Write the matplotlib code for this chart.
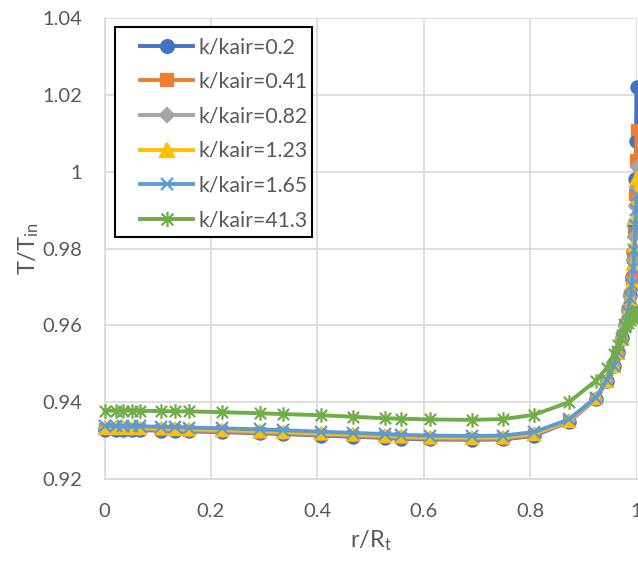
import matplotlib
matplotlib.use("Agg")
import matplotlib.pyplot as plt
from matplotlib.path import Path
from matplotlib.patches import Rectangle
from matplotlib.ticker import FuncFormatter

# -------- DATA ------------------------------------------------------
r_over_R = [0.000, 0.022, 0.035, 0.051, 0.067, 0.107, 0.132, 0.159, 0.220, 0.293,
            0.336, 0.407, 0.467, 0.527, 0.558, 0.611, 0.690, 0.749, 0.807, 0.873,
            0.923, 0.945, 0.957, 0.965, 0.972, 0.979, 0.984, 0.988, 0.991, 0.994,
            0.996, 0.998, 0.999, 1.000]

T_k020 = [0.9328, 0.9328, 0.9328, 0.9327, 0.9327, 0.9326, 0.9325, 0.9324, 0.9322, 0.9319,
          0.9317, 0.9313, 0.9310, 0.9307, 0.9305, 0.9303, 0.9302, 0.9303, 0.9312, 0.9349,
          0.9407, 0.9455, 0.9494, 0.9530, 0.9567, 0.9602, 0.9640, 0.9680, 0.9725, 0.9790,
          0.9860, 0.9980, 1.0080, 1.0220]
T_k041 = [0.9330, 0.9330, 0.9330, 0.9329, 0.9329, 0.9328, 0.9327, 0.9326, 0.9324, 0.9321,
          0.9319, 0.9315, 0.9312, 0.9309, 0.9307, 0.9305, 0.9304, 0.9305, 0.9314, 0.9350,
          0.9408, 0.9455, 0.9494, 0.9530, 0.9566, 0.9601, 0.9638, 0.9677, 0.9720, 0.9780,
          0.9840, 0.9940, 1.0030, 1.0108]
T_k082 = [0.9332, 0.9332, 0.9332, 0.9331, 0.9331, 0.9330, 0.9329, 0.9328, 0.9326, 0.9323,
          0.9321, 0.9317, 0.9314, 0.9311, 0.9309, 0.9307, 0.9306, 0.9307, 0.9316, 0.9351,
          0.9409, 0.9456, 0.9494, 0.9529, 0.9565, 0.9601, 0.9637, 0.9675, 0.9715, 0.9770,
          0.9830, 0.9910, 0.9960, 1.0012]
T_k123 = [0.9334, 0.9334, 0.9334, 0.9333, 0.9333, 0.9332, 0.9331, 0.9330, 0.9328, 0.9325,
          0.9323, 0.9319, 0.9316, 0.9313, 0.9311, 0.9309, 0.9308, 0.9309, 0.9318, 0.9352,
          0.9410, 0.9456, 0.9494, 0.9529, 0.9564, 0.9600, 0.9636, 0.9672, 0.9710, 0.9760,
          0.9810, 0.9880, 0.9930, 0.9984]
T_k165 = [0.9338, 0.9338, 0.9338, 0.9337, 0.9337, 0.9336, 0.9335, 0.9334, 0.9332, 0.9329,
          0.9327, 0.9323, 0.9320, 0.9317, 0.9315, 0.9313, 0.9312, 0.9313, 0.9322, 0.9355,
          0.9412, 0.9458, 0.9495, 0.9530, 0.9565, 0.9600, 0.9635, 0.9670, 0.9705, 0.9750,
          0.9795, 0.9860, 0.9900, 0.9940]
T_k413 = [0.9378, 0.9378, 0.9378, 0.9378, 0.9377, 0.9377, 0.9376, 0.9376, 0.9374, 0.9371,
          0.9369, 0.9366, 0.9362, 0.9358, 0.9357, 0.9355, 0.9354, 0.9356, 0.9367, 0.9400,
          0.9455, 0.9490, 0.9525, 0.9550, 0.9575, 0.9595, 0.9606, 0.9614, 0.9620, 0.9625,
          0.9628, 0.9632, 0.9634, 0.9636]

labels = ["k/kair=0.2", "k/kair=0.41", "k/kair=0.82", "k/kair=1.23", "k/kair=1.65", "k/kair=41.3"]
x_ticks = [0, 0.2, 0.4, 0.6, 0.8, 1.0]
y_ticks = [0.92, 0.94, 0.96, 0.98, 1.00, 1.02, 1.04]
# --------------------------------------------------------------------

W, H = 638, 561

# Excel-style star marker: an "x" with a vertical bar
star = Path([(-1, -1), (1, 1), (-1, 1), (1, -1), (0, -1.3), (0, 1.3)],
            [Path.MOVETO, Path.LINETO, Path.MOVETO, Path.LINETO, Path.MOVETO, Path.LINETO])

styles = [
    ("#4472C4", "o", 8.8),
    ("#ED7D31", "s", 7.8),
    ("#A5A5A5", "D", 6.5),
    ("#FFC000", "^", 9.0),
    ("#5B9BD5", "x", 8.5),
    ("#70AD47", star, 10.5),
]

TEXT = "#595959"
GRID = "#D9D9D9"

plt.rcParams["font.family"] = ["Lato", "DejaVu Sans"]
plt.rcParams["mathtext.fontset"] = "custom"
plt.rcParams["mathtext.rm"] = "Lato"
plt.rcParams["mathtext.it"] = "Lato"


def main():
    fig = plt.figure(figsize=(W / 100, H / 100), dpi=100)
    ax = fig.add_axes([104.5 / W, 1 - 479 / H, 532 / W, 461 / H])

    series = [T_k020, T_k041, T_k082, T_k123, T_k165, T_k413]
    for i, (vals, lab, (col, mk, ms)) in enumerate(zip(series, labels, styles)):
        ax.plot(r_over_R, vals, color=col, linewidth=2.8, marker=mk, markersize=ms,
                markerfacecolor=col, markeredgecolor=col, markeredgewidth=1.6,
                label=lab, clip_on=False, zorder=3 + i)

    ax.set_xlim(0, 1)
    ax.set_ylim(0.92, 1.04)
    ax.set_xticks(x_ticks)
    ax.set_yticks(y_ticks)
    ax.xaxis.set_major_formatter(FuncFormatter(lambda v, p: f"{v:g}"))
    ax.yaxis.set_major_formatter(FuncFormatter(lambda v, p: f"{v:g}"))
    ax.tick_params(length=0, labelsize=14.5, colors=TEXT)
    ax.tick_params(axis="x", pad=17)
    ax.tick_params(axis="y", pad=16)

    ax.grid(True, color=GRID, linewidth=1.2)
    ax.set_axisbelow(True)
    for side in ["top", "right"]:
        ax.spines[side].set_visible(False)
    for side in ["left", "bottom"]:
        ax.spines[side].set_color(GRID)
        ax.spines[side].set_linewidth(1.2)

    ax.set_xlabel(r"r/R$_\mathrm{t}$", fontsize=17, color=TEXT, labelpad=6)
    ax.set_ylabel(r"T/T$_\mathrm{in}$", fontsize=17, color=TEXT, labelpad=1)

    # legend box drawn by hand so the padding matches the Excel layout
    box = Rectangle((115 / W, 1 - 237 / H), 197 / W, 210 / H, transform=fig.transFigure,
                    facecolor="white", edgecolor="black", linewidth=1.5,
                    zorder=19, clip_on=False)
    ax.add_patch(box)

    leg = ax.legend(loc="upper left", bbox_to_anchor=(140 / W, 1 - 37 / H),
                    bbox_transform=fig.transFigure, borderaxespad=0, borderpad=0,
                    fontsize=15.3, handlelength=2.5, labelspacing=0.69,
                    handletextpad=0.25, frameon=False, markerscale=1.05)
    for t in leg.get_texts():
        t.set_color(TEXT)
    leg.set_zorder(20)

    fig.savefig("out.png", dpi=100)


if __name__ == "__main__":
    main()
